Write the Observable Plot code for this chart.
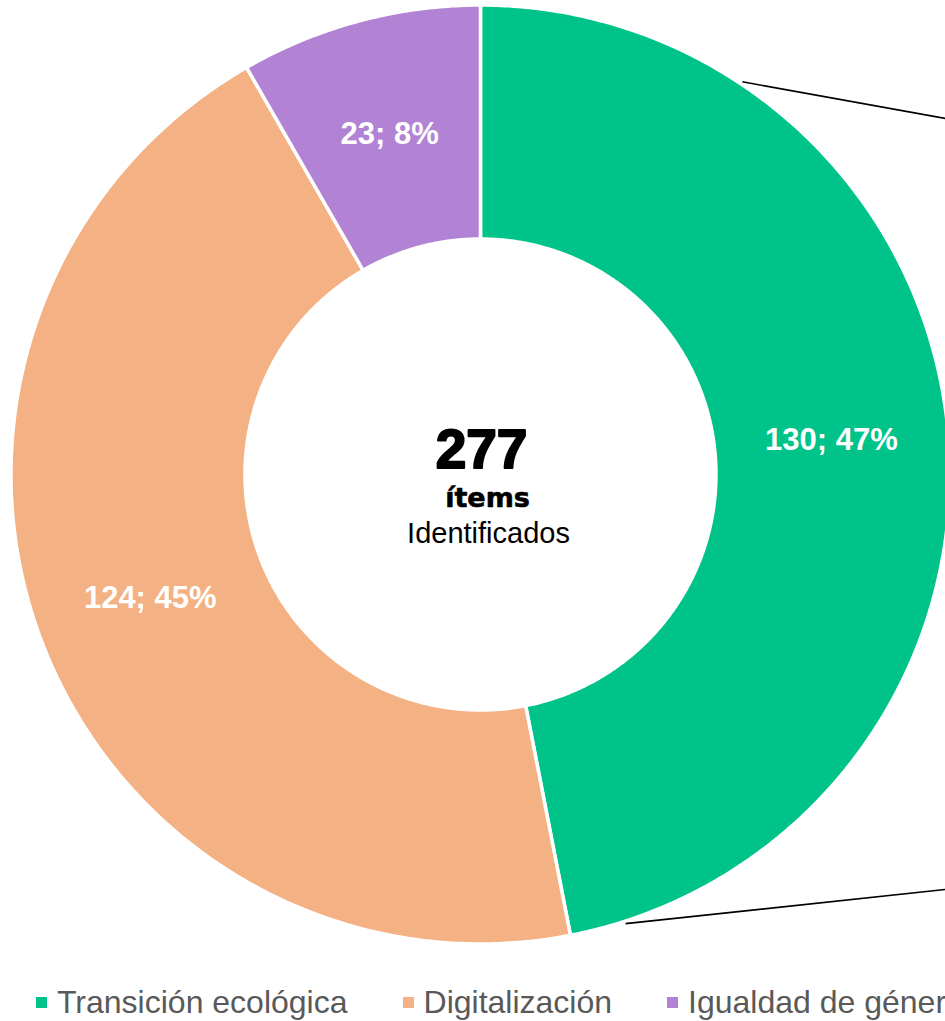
<!DOCTYPE html>
<html>
<head>
<meta charset="utf-8">
<script src="https://cdn.jsdelivr.net/npm/d3@7"></script>
<script src="https://cdn.jsdelivr.net/npm/@observablehq/plot@0.6"></script>
<style>
  html, body { margin: 0; padding: 0; background: #fff; }
  #wrap { width: 945px; overflow: hidden; font-family: "Liberation Sans", Arial, sans-serif; }
  #legend { display: flex; align-items: center; height: 36px; line-height: 36px; padding-left: 36px;
            font-size: 32px; color: #595959; white-space: nowrap; }
  .item { display: flex; align-items: center; margin-right: 55px; flex: none; }
  .sw { width: 11px; height: 11px; margin-right: 10px; flex: none; }
</style>
</head>
<body>
<div id="wrap"></div>
<script>
// ---- data ----
const categories = ["Transición ecológica", "Digitalización", "Igualdad de género"];
const counts = [130, 124, 23];
const colors = ["#00C38A", "#F4B183", "#B283D4"];
const centerNumberLabel = "ítems";
const centerSubLabel = "Identificados";
// connector lines toward the (cropped) secondary chart, in donut coordinates
const connectorAngles = [33.7, 162.1];   // degrees clockwise from top
const connectorEndY = [-356, 415];

// ---- geometry from data ----
const total = d3.sum(counts);
const rOuter = 469.5, rInner = 235.5, rLabel = 352.5, rConn = 472;
const xMax = 465;
const toXY = (r, deg) => [r * Math.sin(deg * Math.PI / 180), -r * Math.cos(deg * Math.PI / 180)];

const slices = [];
let acc = 0;
categories.forEach((c, i) => {
  const a0 = acc / total * 360;
  acc += counts[i];
  const a1 = acc / total * 360;
  slices.push({category: c, value: counts[i], a0, a1});
});

const polyPts = [];
slices.forEach(s => {
  const n = Math.max(2, Math.ceil(s.a1 - s.a0) * 2);
  const pts = [];
  for (let k = 0; k <= n; k++) pts.push(toXY(rOuter, s.a0 + (s.a1 - s.a0) * k / n));
  for (let k = n; k >= 0; k--) pts.push(toXY(rInner, s.a0 + (s.a1 - s.a0) * k / n));
  pts.push(pts[0]);
  pts.forEach(([x, y]) => polyPts.push({category: s.category, x, y}));
});

const labels = slices.map(s => {
  const [x, y] = toXY(rLabel, (s.a0 + s.a1) / 2);
  return {x, y, text: `${s.value}; ${Math.round(s.value / total * 100)}%`};
});

const connectors = connectorAngles.map((a, i) => {
  const [x1, y1] = toXY(rConn, a);
  return {x1, y1, x2: xMax, y2: connectorEndY[i]};
});

const font = "Liberation Sans, Arial, sans-serif";

const chart = Plot.plot({
  width: 945,
  height: 984,
  margin: 0,
  x: {domain: [-480, xMax], range: [0, 945], axis: null},
  y: {domain: [-474, 510], range: [0, 984], axis: null},
  color: {domain: categories, range: colors},
  style: {fontFamily: font, background: "#fff"},
  marks: [
    Plot.line(polyPts, {x: "x", y: "y", z: "category", fill: "category", stroke: "white",
      strokeWidth: 3.5, strokeLinejoin: "round", curve: "linear"}),
    Plot.text(labels, {x: "x", y: "y", text: "text", fill: "white", fontWeight: "bold",
      fontSize: 31, fontFamily: font}),
    Plot.link(connectors, {x1: "x1", y1: "y1", x2: "x2", y2: "y2", stroke: "black", strokeWidth: 1.6}),
    Plot.text([String(total)], {x: () => 0, y: () => -7, text: d => d, lineAnchor: "bottom",
      fontSize: 55, fontWeight: "bold", fill: "black", stroke: "black", strokeWidth: 2,
      fontFamily: font, dx: 1}),
    Plot.text([centerNumberLabel], {x: () => 0, y: () => 32, text: d => d, lineAnchor: "bottom",
      fontSize: 27, fontWeight: "bold", fill: "black", stroke: "black", strokeWidth: 0.6,
      fontFamily: "DejaVu Sans, sans-serif", dx: 7}),
    Plot.text([centerSubLabel], {x: () => 0, y: () => 68, text: d => d, lineAnchor: "bottom",
      fontSize: 29, fill: "black", fontFamily: font, dx: 8})
  ]
});

const wrap = document.getElementById("wrap");
wrap.appendChild(chart);

const legend = document.createElement("div");
legend.id = "legend";
categories.forEach((c, i) => {
  const item = document.createElement("div");
  item.className = "item";
  const sw = document.createElement("span");
  sw.className = "sw";
  sw.style.background = colors[i];
  const t = document.createElement("span");
  t.textContent = c;
  item.appendChild(sw);
  item.appendChild(t);
  legend.appendChild(item);
});
wrap.appendChild(legend);
</script>
</body>
</html>
